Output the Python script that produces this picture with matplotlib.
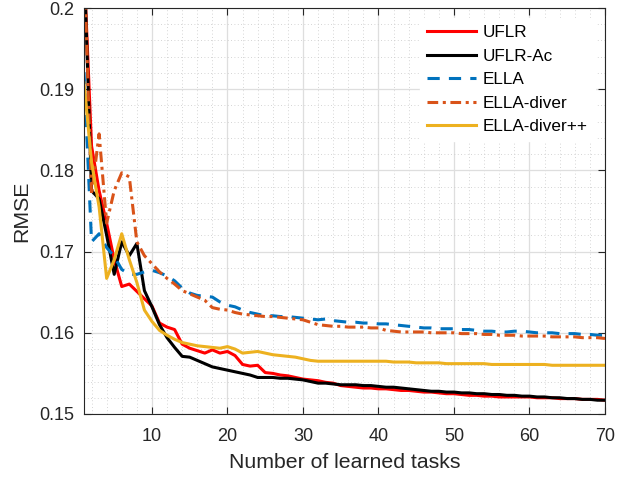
import matplotlib
matplotlib.use("Agg")
import matplotlib.pyplot as plt
import numpy as np
from matplotlib.ticker import MultipleLocator, FuncFormatter

tasks = list(range(1, 71))

uflr = [0.205, 0.183, 0.1775, 0.1735, 0.169, 0.1657, 0.166, 0.1651, 0.1642, 0.1633,
        0.1612, 0.1607, 0.1604, 0.1586, 0.1581, 0.1578, 0.1575, 0.1579, 0.1575, 0.1577,
        0.1572, 0.1561, 0.1559, 0.156, 0.1551, 0.155, 0.1548, 0.1547, 0.1545, 0.1543,
        0.1542, 0.1541, 0.1539, 0.1538, 0.1535, 0.1534, 0.1533, 0.1532, 0.1532, 0.1531,
        0.1531, 0.153, 0.1529, 0.1529, 0.1528, 0.1527, 0.1527, 0.1526, 0.1525, 0.1525,
        0.1524, 0.1523, 0.1523, 0.1522, 0.1522, 0.1521, 0.1521, 0.1521, 0.1521, 0.1521,
        0.152, 0.152, 0.152, 0.1519, 0.1519, 0.1519, 0.1518, 0.1518, 0.1518, 0.1517]

uflr_ac = [0.206, 0.1775, 0.1765, 0.172, 0.1672, 0.1712, 0.1695, 0.171, 0.1652, 0.1632,
           0.161, 0.1594, 0.1582, 0.1571, 0.157, 0.1566, 0.1562, 0.1558, 0.1556, 0.1554,
           0.1552, 0.155, 0.1548, 0.1545, 0.1545, 0.1545, 0.1544, 0.1544, 0.1543, 0.1542,
           0.154, 0.1538, 0.1538, 0.1537, 0.1536, 0.1536, 0.1536, 0.1535, 0.1535, 0.1534,
           0.1533, 0.1533, 0.1532, 0.1531, 0.153, 0.1529, 0.1528, 0.1528, 0.1527, 0.1527,
           0.1526, 0.1526, 0.1525, 0.1525, 0.1524, 0.1524, 0.1523, 0.1523, 0.1522, 0.1522,
           0.1521, 0.1521, 0.152, 0.152, 0.1519, 0.1519, 0.1518, 0.1518, 0.1517, 0.1517]

ella = [0.1921, 0.1712, 0.1722, 0.1705, 0.1694, 0.1678, 0.1672, 0.1672, 0.1675, 0.1677,
        0.1674, 0.167, 0.1664, 0.1655, 0.1649, 0.1646, 0.1645, 0.1644, 0.1638, 0.1634,
        0.1632, 0.1628, 0.1625, 0.1623, 0.1621, 0.1621, 0.162, 0.162, 0.1619, 0.1618,
        0.1617, 0.1616, 0.1617, 0.1615, 0.1614, 0.1613, 0.1613, 0.1612, 0.1612, 0.1611,
        0.1611, 0.161, 0.1609, 0.1608, 0.1607, 0.1606, 0.1606, 0.1605, 0.1605, 0.1605,
        0.1604, 0.1604, 0.1603, 0.1602, 0.1602, 0.1601, 0.1601, 0.1602, 0.1602, 0.1601,
        0.16, 0.16, 0.16, 0.1599, 0.1599, 0.1599, 0.1598, 0.1598, 0.1597, 0.1597]

ella_diver = [0.206, 0.177, 0.1845, 0.1735, 0.1775, 0.1797, 0.1792, 0.1712, 0.1695, 0.1685,
              0.1675, 0.1667, 0.166, 0.1652, 0.1648, 0.1644, 0.164, 0.1631, 0.1629, 0.1628,
              0.1625, 0.1623, 0.1622, 0.1621, 0.162, 0.162, 0.1619, 0.1618, 0.1617, 0.1616,
              0.1613, 0.161, 0.1609, 0.1608, 0.1608, 0.1607, 0.1607, 0.1607, 0.1606, 0.1606,
              0.1603, 0.1602, 0.1601, 0.1601, 0.1601, 0.1601, 0.16, 0.16, 0.16, 0.16,
              0.1599, 0.1599, 0.1599, 0.1598, 0.1598, 0.1597, 0.1597, 0.1597, 0.1596, 0.1596,
              0.1596, 0.1596, 0.1595, 0.1595, 0.1595, 0.1595, 0.1594, 0.1594, 0.1594, 0.1593]

ella_diverpp = [0.1908, 0.181, 0.1755, 0.1667, 0.169, 0.1722, 0.169, 0.1662, 0.1628, 0.1614,
                0.1603, 0.1597, 0.1592, 0.1588, 0.1586, 0.1584, 0.1583, 0.1582, 0.1581, 0.1583,
                0.158, 0.1575, 0.1576, 0.1577, 0.1575, 0.1573, 0.1572, 0.1571, 0.157, 0.1568,
                0.1566, 0.1565, 0.1565, 0.1565, 0.1565, 0.1565, 0.1565, 0.1565, 0.1565, 0.1565,
                0.1565, 0.1564, 0.1564, 0.1564, 0.1563, 0.1563, 0.1563, 0.1563, 0.1562, 0.1562,
                0.1562, 0.1562, 0.1562, 0.1562, 0.1561, 0.1561, 0.1561, 0.1561, 0.1561, 0.1561,
                0.1561, 0.1561, 0.156, 0.156, 0.156, 0.156, 0.156, 0.156, 0.156, 0.156]

labels = ["UFLR", "UFLR-Ac", "ELLA", "ELLA-diver", "ELLA-diver++"]

plt.rcParams['font.family'] = ['Liberation Sans', 'DejaVu Sans']

fig = plt.figure(figsize=(6.31, 4.8), dpi=100)
ax = fig.add_axes([84/631, 1-414/480, (605-84)/631, (414-8)/480])

lw = 2.2
ax.plot(tasks, uflr, color=(1, 0, 0), lw=lw, label=labels[0])
ax.plot(tasks, uflr_ac, color='black', lw=lw, label=labels[1])
ax.plot(tasks, ella, color=(0, 0.447, 0.741), lw=lw, dashes=(4, 3), label=labels[2])
ax.plot(tasks, ella_diver, color=(0.85, 0.325, 0.098), lw=lw, dashes=(3.5, 1.5, 1, 1.5), label=labels[3])
ax.plot(tasks, ella_diverpp, color=(0.929, 0.694, 0.125), lw=lw, label=labels[4])

ax.set_xlim(1, 70)
ax.set_ylim(0.15, 0.2)
ax.xaxis.set_major_locator(MultipleLocator(10))
ax.xaxis.set_minor_locator(MultipleLocator(2))
ax.yaxis.set_major_locator(MultipleLocator(0.01))
ax.yaxis.set_minor_locator(MultipleLocator(0.002))
ax.yaxis.set_major_formatter(FuncFormatter(lambda v, p: ('%.2f' % v).rstrip('0') if abs(v-0.2) < 1e-9 else '%.2f' % v))

ax.grid(which='major', color=(0.87, 0.87, 0.87), lw=0.9, ls='-')
ax.grid(which='minor', color=(0.78, 0.78, 0.78), lw=0.6, ls=(0, (1, 3)))
ax.set_axisbelow(True)

ax.tick_params(which='both', direction='in', top=True, right=True, labelsize=13, colors=(0.15, 0.15, 0.15))
ax.tick_params(which='major', length=5)
ax.tick_params(which='minor', length=0)
ax.tick_params(axis='x', pad=10)
ax.tick_params(axis='y', pad=7)
for s in ax.spines.values():
    s.set_color((0.15, 0.15, 0.15))
    s.set_linewidth(0.8)

ax.set_xlabel("Number of learned tasks", fontsize=15.3, color=(0.15, 0.15, 0.15), labelpad=6)
ax.set_ylabel("RMSE", fontsize=15.3, color=(0.15, 0.15, 0.15), labelpad=6)

leg = ax.legend(loc='upper right', fontsize=12.3, frameon=True, fancybox=False,
                edgecolor='white', framealpha=1, handlelength=2.9, handletextpad=0.4,
                labelspacing=0.5, borderaxespad=0.6)

fig.savefig("out.png", dpi=100)
